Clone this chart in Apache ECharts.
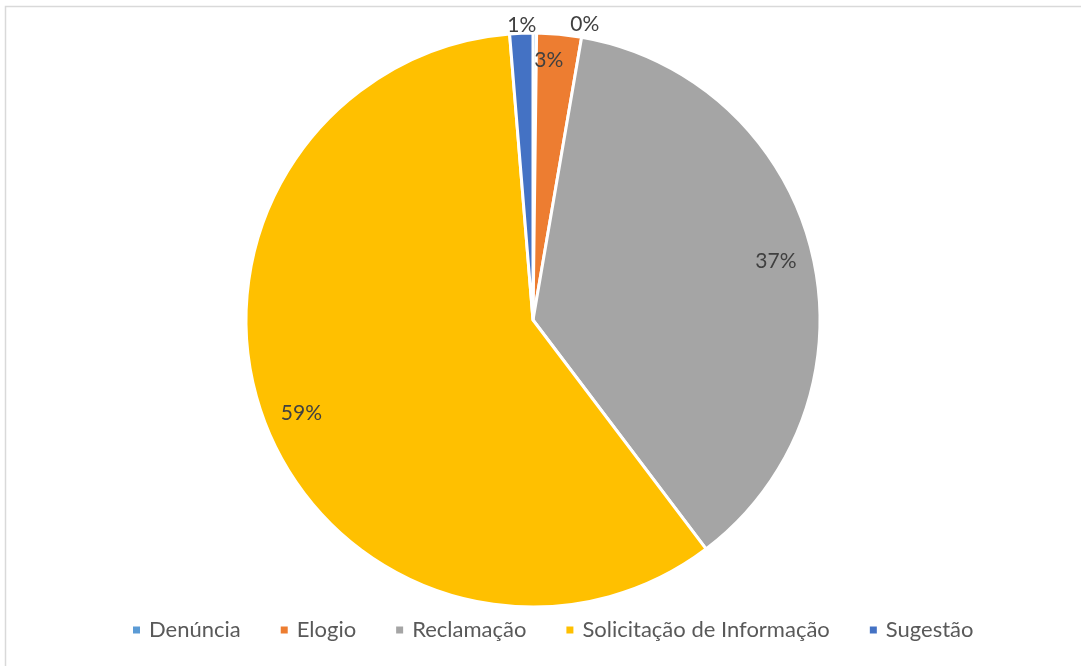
<!DOCTYPE html>
<html>
<head>
<meta charset="utf-8">
<style>
  html, body { margin: 0; padding: 0; background: #fff; }
  #main { width: 1081px; height: 666px; }
</style>
<script src="https://cdn.jsdelivr.net/npm/echarts@6/dist/echarts.min.js"></script>
</head>
<body>
<div id="main"></div>
<script>
// categorias e percentuais
var categorias = ['Denúncia', 'Elogio', 'Reclamação', 'Solicitação de Informação', 'Sugestão'];
var valores = [0.2, 2.51, 36.99, 59.0, 1.3];
var cores = ['#5B9BD5', '#ED7D31', '#A5A5A5', '#FFC000', '#4472C4'];

var fonte = 'Lato, "Open Sans", sans-serif';
var dados = categorias.map(function (c, i) {
    return { name: c, value: valores[i], itemStyle: { color: cores[i] } };
});

var myChart = echarts.init(document.getElementById('main'));

function pct(p) { return Math.round(p.percent) + '%'; }

var option = {
    animation: false,
    graphic: [{
        type: 'polyline',
        shape: { points: [[5.5, 666], [5.5, 6.5], [1081, 6.5]] },
        style: { stroke: '#d9d9d9', lineWidth: 1.5, fill: null }
    }],
    legend: {
        bottom: 20,
        left: 126,
        icon: 'rect',
        itemWidth: 9,
        itemHeight: 9,
        itemGap: 38,
        textStyle: { fontFamily: fonte, fontSize: 22, color: '#595959', padding: [0, 0, 0, 3] },
        data: categorias
    },
    series: [{
        // fatias
        type: 'pie',
        center: [533, 320],
        radius: [0, 287],
        startAngle: 90,
        silent: true,
        label: { show: false },
        labelLine: { show: false },
        itemStyle: { borderColor: '#fff', borderWidth: 3 },
        data: dados
    }, {
        // rótulos internos (camada transparente)
        type: 'pie',
        center: [533, 320],
        radius: [222, 272],
        startAngle: 90,
        silent: true,
        itemStyle: { color: 'transparent' },
        labelLine: { show: false },
        label: {
            position: 'inside',
            formatter: function (p) {
                return (p.dataIndex === 0 || p.dataIndex === 4) ? '' : pct(p);
            },
            fontFamily: fonte, fontSize: 21, color: '#404040'
        },
        labelLayout: function (p) {
            if (p.dataIndex === 1) return { dx: -7, dy: -11 };
            if (p.dataIndex === 3) return { dx: 2, dy: 4 };
            return {};
        },
        data: dados.map(function (d) { return { name: d.name, value: d.value }; })
    }, {
        // rótulos externos 0% e 1%
        type: 'pie',
        center: [533, 320],
        radius: [280, 310],
        startAngle: 90,
        silent: true,
        itemStyle: { color: 'transparent' },
        labelLine: { show: false },
        label: {
            position: 'inside',
            formatter: function (p) {
                return (p.dataIndex === 0 || p.dataIndex === 4) ? pct(p) : '';
            },
            fontFamily: fonte, fontSize: 21, color: '#404040'
        },
        labelLayout: function (p) {
            return p.dataIndex === 0 ? { dx: 50, dy: 2 } : { dx: 1, dy: 3 };
        },
        data: dados.map(function (d) { return { name: d.name, value: d.value }; })
    }]
};

myChart.setOption(option);
</script>
</body>
</html>
